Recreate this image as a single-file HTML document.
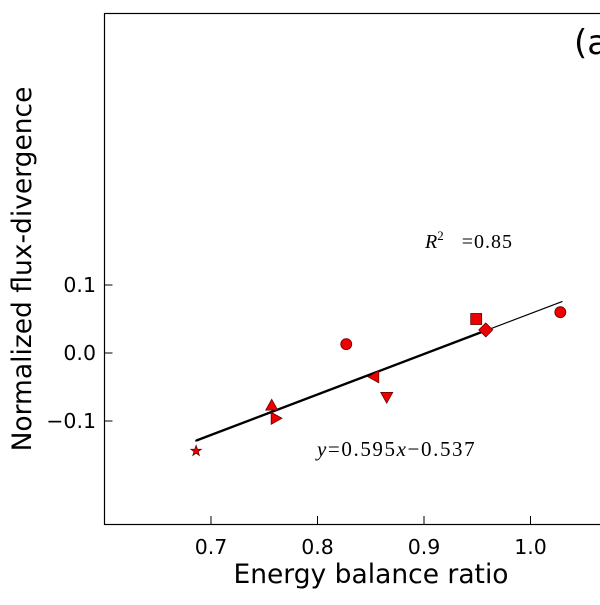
<!DOCTYPE html>
<html><head><meta charset="utf-8"><style>
body{margin:0;background:#fff;width:600px;height:600px;overflow:hidden}
text{font-family:"DejaVu Sans","Liberation Sans",sans-serif}
</style></head><body>
<svg id="chart" width="600" height="600">
<rect x="104.5" y="13.5" width="600" height="511" fill="none" stroke="#000" stroke-width="1.2"/>
<g id="ticks"></g>
<g id="marks"></g>
<text x="371" y="583" font-size="26.5" text-anchor="middle">Energy balance ratio</text>
<text transform="translate(31,269) rotate(-90)" font-size="26.5" text-anchor="middle">Normalized flux-divergence</text>
<text x="574" y="54" font-size="34">(a</text>
<text x="425" y="248" font-size="20"><tspan font-style="italic" font-family="Liberation Serif">R</tspan><tspan font-size="13" dy="-8" font-family="Liberation Serif">2</tspan><tspan dy="8" font-family="Liberation Serif" letter-spacing="1">&#160;&#160;&#160;=0.85</tspan></text>
<text x="317" y="456" font-size="21" letter-spacing="1.6"><tspan font-style="italic" font-family="Liberation Serif">y</tspan><tspan font-family="Liberation Serif">=0.595</tspan><tspan font-style="italic" font-family="Liberation Serif">x</tspan><tspan font-family="Liberation Serif">−0.537</tspan></text>
</svg>
<script>
const xTicks=[0.7,0.8,0.9,1.0];
const xTickLabels=["0.7","0.8","0.9","1.0"];
const yTicks=[0.1,0.0,-0.1];
const yTickLabels=["0.1","0.0","\u22120.1"];
const xVals=[0.686,0.757,0.761,0.827,0.853,0.865,0.949,0.958,1.028];
const yVals=[-0.144,-0.077,-0.096,0.013,-0.035,-0.065,0.050,0.034,0.060];
const markers=["star","up","right","circle","left","down","square","diamond","circle"];
const slope=0.595, intercept=-0.537;
const fitRange=[0.685,1.03], fitBold=[0.686,0.958];
const X=v=>104.5+(v-0.6)*1065;
const Y=v=>353-v*680;
const NS="http://www.w3.org/2000/svg";
const tk=document.getElementById('ticks'), mk=document.getElementById('marks');
function mkEl(t,a,p){const e=document.createElementNS(NS,t);for(const k in a)e.setAttribute(k,a[k]);p.appendChild(e);return e;}
xTicks.forEach((v,i)=>{
 const l=mkEl('line',{x1:X(v),x2:X(v),y1:524,y2:516,stroke:'#000'},tk);
 
 
 const t=mkEl('text',{x:X(v),y:554,'font-size':20.5,'text-anchor':'middle'},tk);t.textContent=xTickLabels[i];
 
 
});
yTicks.forEach((v,i)=>{
 const l=mkEl('line',{x1:104.5,x2:112.5,y1:Y(v),y2:Y(v),stroke:'#000'},tk);
 
 
 const t=mkEl('text',{x:96,y:Y(v)+7,'font-size':20.5,'text-anchor':'end'},tk);t.textContent=yTickLabels[i];
 
 
});
const f=x=>slope*x+intercept;
const thin=mkEl('line',{x1:X(fitRange[0]),y1:Y(f(fitRange[0])),x2:X(fitRange[1]),y2:Y(f(fitRange[1])),stroke:'#000','stroke-width':1.2},mk);


const bold=mkEl('line',{x1:X(fitBold[0]),y1:Y(f(fitBold[0])),x2:X(fitBold[1]),y2:Y(f(fitBold[1])),stroke:'#000','stroke-width':2.4},mk);


function pts(a){return a.map(p=>p.join(',')).join(' ');}
xVals.forEach((xv,i)=>{
 const cx=X(xv),cy=Y(yVals[i]),s=6,m=markers[i];
 const st={fill:'#e00',stroke:'#600','stroke-width':0.8};
 let e;
 if(m==='circle')e=mkEl('circle',Object.assign({cx,cy,r:5.5},st),mk);
 else if(m==='square')e=mkEl('rect',Object.assign({x:cx-5.5,y:cy-5.5,width:11,height:11},st),mk);
 else{
  let p;
  if(m==='up')p=[[cx,cy-s],[cx-s,cy+s*0.8],[cx+s,cy+s*0.8]];
  else if(m==='down')p=[[cx,cy+s],[cx-s,cy-s*0.8],[cx+s,cy-s*0.8]];
  else if(m==='left')p=[[cx-s,cy],[cx+s*0.8,cy-s],[cx+s*0.8,cy+s]];
  else if(m==='right')p=[[cx+s,cy],[cx-s*0.8,cy-s],[cx-s*0.8,cy+s]];
  else if(m==='diamond')p=[[cx,cy-7],[cx+7,cy],[cx,cy+7],[cx-7,cy]];
  else{p=[];for(let k=0;k<10;k++){const r=k%2?2.2:5.5,a=-Math.PI/2+k*Math.PI/5;p.push([cx+r*Math.cos(a),cy+r*Math.sin(a)]);}}
  e=mkEl('polygon',Object.assign({points:pts(p)},st),mk);
 }
 
 
});
</script>
</body></html>
